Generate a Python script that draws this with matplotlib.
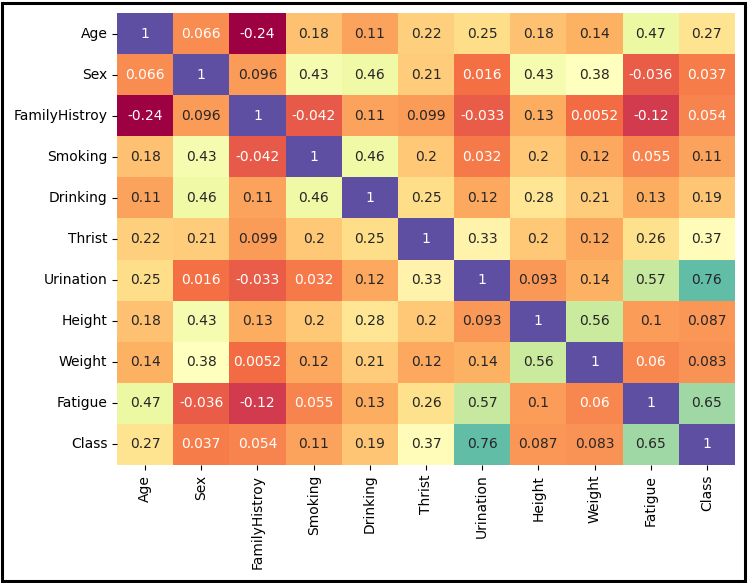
import matplotlib
matplotlib.use("Agg")
import matplotlib.pyplot as plt
import seaborn as sns
import numpy as np
import pandas as pd
from matplotlib.patches import Rectangle

labels = ["Age", "Sex", "FamilyHistroy", "Smoking", "Drinking", "Thrist",
          "Urination", "Height", "Weight", "Fatigue", "Class"]

age = [1, 0.066, -0.24, 0.18, 0.11, 0.22, 0.25, 0.18, 0.14, 0.47, 0.27]
sex = [0.066, 1, 0.096, 0.43, 0.46, 0.21, 0.016, 0.43, 0.38, -0.036, 0.037]
family = [-0.24, 0.096, 1, -0.042, 0.11, 0.099, -0.033, 0.13, 0.0052, -0.12, 0.054]
smoking = [0.18, 0.43, -0.042, 1, 0.46, 0.2, 0.032, 0.2, 0.12, 0.055, 0.11]
drinking = [0.11, 0.46, 0.11, 0.46, 1, 0.25, 0.12, 0.28, 0.21, 0.13, 0.19]
thrist = [0.22, 0.21, 0.099, 0.2, 0.25, 1, 0.33, 0.2, 0.12, 0.26, 0.37]
urination = [0.25, 0.016, -0.033, 0.032, 0.12, 0.33, 1, 0.093, 0.14, 0.57, 0.76]
height = [0.18, 0.43, 0.13, 0.2, 0.28, 0.2, 0.093, 1, 0.56, 0.1, 0.087]
weight = [0.14, 0.38, 0.0052, 0.12, 0.21, 0.12, 0.14, 0.56, 1, 0.06, 0.083]
fatigue = [0.47, -0.036, -0.12, 0.055, 0.13, 0.26, 0.57, 0.1, 0.06, 1, 0.65]
klass = [0.27, 0.037, 0.054, 0.11, 0.19, 0.37, 0.76, 0.087, 0.083, 0.65, 1]

corr = pd.DataFrame([age, sex, family, smoking, drinking, thrist, urination,
                     height, weight, fatigue, klass], index=labels, columns=labels)

fig = plt.figure(figsize=(7.49, 5.83), dpi=100)
ax = fig.add_axes([117/749, 1-465/583, (735-117)/749, (465-13)/583])
sns.heatmap(corr, annot=True, cmap="Spectral", cbar=False, ax=ax,
            annot_kws={"fontsize": 10})
ax.tick_params(axis='both', labelsize=10)
plt.setp(ax.get_xticklabels(), rotation=90)
plt.setp(ax.get_yticklabels(), rotation=0)

fig.patches.append(Rectangle((2/749, 2/583), (745-2)/749, (580-2)/583,
                             transform=fig.transFigure, fill=False,
                             edgecolor="black", linewidth=2.2, zorder=10))
fig.savefig("out.png", dpi=100)
